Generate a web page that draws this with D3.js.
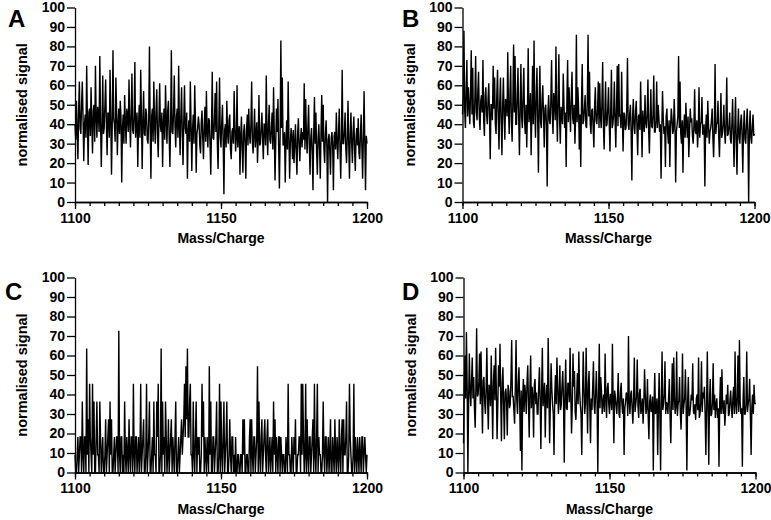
<!DOCTYPE html>
<html><head><meta charset="utf-8">
<script src="https://cdn.jsdelivr.net/npm/d3@7"></script>
<style>
body{margin:0;background:#fff;}
svg text{font-family:"Liberation Sans",Arial,Helvetica,sans-serif;font-weight:bold;fill:#000;}
</style></head><body>
<svg id="chart" width="771" height="520"></svg>
<script>
const panelLetters = ["A", "B", "C", "D"];
const xLabel = "Mass/Charge";
const yLabel = "normalised signal";
const xTickLabels = [1100, 1150, 1200];
const xMinorTicks = [1100,1105,1110,1115,1120,1125,1130,1135,1140,1145,1150,1155,1160,1165,1170,1175,1180,1185,1190,1195,1200];
const yTickLabels = [0, 10, 20, 30, 40, 50, 60, 70, 80, 90, 100];
const mzStart = 1100, mzStep = 0.25;

const signalA = [40,32,52,36,22,48,62,38,35,50,62,44,21,40,45,33,70,42,19,46,
48,34,59,41,25,47,50,31,70,44,33,49,45,36,75,42,18,38,65,35,
38,50,63,40,24,46,45,33,68,44,14,39,78,43,40,31,64,47,24,40,
48,35,52,44,10,38,45,30,55,41,30,48,44,36,63,42,28,45,66,37,
35,44,72,33,40,46,18,39,50,33,68,45,17,41,57,35,34,48,45,32,
30,43,80,38,12,44,48,31,62,40,30,47,58,35,23,43,61,39,36,46,
18,40,48,32,60,43,30,47,52,34,18,41,78,36,35,46,65,39,28,44,
48,33,70,40,24,45,59,35,19,42,60,38,35,46,12,36,42,31,62,40,
16,37,45,30,60,42,15,35,38,44,40,29,25,41,47,33,22,39,49,31,
57,36,28,43,42,30,14,38,67,33,32,42,56,36,62,30,17,40,64,34,
28,41,50,31,4,37,40,28,52,35,30,42,45,27,22,36,38,30,57,38,
26,33,60,28,35,39,14,34,44,27,15,36,40,30,12,37,45,29,48,35,
30,40,62,31,25,36,48,28,35,41,20,33,55,29,30,38,46,32,22,40,
40,29,65,36,24,40,50,32,30,38,46,27,59,35,11,31,48,36,53,28,
7,34,83,38,64,29,30,36,10,31,42,27,62,35,12,30,38,33,22,37,
20,30,40,26,14,35,43,29,21,33,38,28,36,32,61,27,53,34,25,38,
50,29,14,33,38,26,6,35,54,30,46,25,14,33,40,28,12,36,55,31,
50,27,20,34,42,29,0,32,35,26,14,33,36,28,6,34,36,27,46,31,
22,36,48,28,12,33,68,30,30,36,46,27,20,34,52,29,12,35,46,30,
20,36,44,27,16,33,38,29,43,25,22,35,45,28,12,33,57,30,6,34,
30];

const signalB = [45,55,88,47,38,58,73,44,59,50,40,56,78,45,69,41,38,54,75,46,
42,57,67,44,37,52,55,46,73,42,34,55,59,45,40,53,61,44,22,50,
50,42,70,48,64,40,35,55,68,43,27,51,64,42,24,49,64,45,32,53,
50,44,77,47,35,56,70,41,31,52,81,46,75,40,40,55,69,43,24,49,
71,44,38,55,69,42,35,50,28,47,79,41,45,56,24,45,70,40,83,48,
33,54,69,43,15,50,70,41,38,53,60,44,28,48,50,40,8,46,55,42,
40,52,73,45,35,56,52,42,80,47,31,53,76,43,30,49,45,40,66,50,
38,46,18,52,73,41,59,47,36,54,67,43,40,50,30,44,86,41,59,49,
27,45,18,51,71,40,42,48,55,39,38,52,86,44,67,40,35,47,48,38,
28,50,59,42,40,47,62,38,61,44,38,51,72,40,27,46,62,39,40,48,
59,41,26,47,68,38,40,45,62,42,28,49,70,39,71,44,45,38,67,43,
26,46,45,37,38,48,74,40,37,45,50,36,11,44,53,39,35,46,52,38,
24,44,45,37,62,42,23,47,40,36,55,41,38,45,63,37,25,43,58,39,
38,45,65,36,36,42,62,38,50,44,36,40,12,37,57,43,35,39,18,44,
48,36,30,42,18,38,48,43,35,37,53,41,10,36,40,44,75,38,62,35,
30,42,15,38,45,33,51,40,33,44,23,36,48,41,43,34,30,39,58,36,
35,42,28,37,59,33,40,41,54,35,35,40,8,37,45,33,52,40,30,36,
38,42,48,33,23,38,71,35,40,41,52,34,23,39,56,33,35,40,50,36,
30,42,64,34,35,39,46,32,30,40,53,35,18,38,54,32,14,37,48,33,
30,41,45,34,15,38,47,32,30,40,48,35,0,37,47,33,30,39,45,34,
35];

const signalC = [9.1,0,0,9.1,18.2,0,9.1,18.2,18.2,0,36.4,9.1,0,18.2,18.2,0,63.6,9.1,27.3,0,
45.5,18.2,9.1,0,45.5,9.1,36.4,0,0,18.2,36.4,9.1,9.1,0,36.4,18.2,0,9.1,18.2,0,
0,9.1,27.3,0,9.1,18.2,27.3,0,36.4,9.1,27.3,0,0,9.1,18.2,0,9.1,18.2,18.2,0,
72.7,9.1,0,18.2,18.2,0,9.1,0,36.4,9.1,0,18.2,9.1,0,27.3,9.1,0,18.2,18.2,0,
45.5,9.1,0,18.2,18.2,0,9.1,18.2,0,9.1,45.5,0,9.1,18.2,27.3,0,0,9.1,45.5,0,
9.1,18.2,36.4,0,0,9.1,18.2,0,36.4,9.1,9.1,0,36.4,18.2,45.5,0,0,9.1,63.6,0,
36.4,9.1,18.2,0,36.4,18.2,0,9.1,27.3,0,9.1,18.2,27.3,0,18.2,9.1,0,18.2,36.4,0,
0,9.1,18.2,0,9.1,18.2,27.3,9.1,18.2,27.3,45.5,18.2,54.5,27.3,63.6,18.2,18.2,36.4,45.5,9.1,
9.1,0,36.4,9.1,0,18.2,36.4,0,18.2,9.1,18.2,0,0,9.1,45.5,18.2,36.4,0,18.2,9.1,
0,18.2,9.1,0,54.5,9.1,36.4,0,0,18.2,18.2,0,9.1,18.2,36.4,0,0,9.1,45.5,0,
36.4,9.1,0,18.2,36.4,0,9.1,18.2,36.4,0,0,9.1,27.3,9.1,0,18.2,18.2,0,9.1,0,
18.2,0,0,9.1,9.1,0,0,9.1,9.1,0,27.3,9.1,27.3,0,0,9.1,9.1,0,0,18.2,
27.3,0,27.3,9.1,0,18.2,18.2,0,9.1,18.2,54.5,0,36.4,9.1,0,18.2,27.3,0,9.1,18.2,
27.3,9.1,0,18.2,27.3,0,9.1,18.2,0,9.1,18.2,0,36.4,9.1,27.3,0,18.2,9.1,0,18.2,
18.2,0,18.2,9.1,0,9.1,9.1,0,0,18.2,9.1,0,45.5,9.1,9.1,0,0,18.2,9.1,0,
18.2,9.1,27.3,0,0,9.1,9.1,18.2,18.2,0,45.5,9.1,45.5,18.2,0,9.1,45.5,0,27.3,9.1,
0,18.2,18.2,0,9.1,18.2,27.3,0,45.5,9.1,0,18.2,45.5,0,18.2,9.1,9.1,0,0,9.1,
36.4,9.1,0,18.2,18.2,0,9.1,18.2,0,9.1,27.3,0,0,18.2,9.1,0,27.3,9.1,0,18.2,
9.1,0,27.3,9.1,0,18.2,27.3,0,27.3,9.1,9.1,18.2,36.4,0,0,9.1,45.5,18.2,9.1,0,
0,9.1,45.5,0,18.2,9.1,0,18.2,9.1,0,18.2,9.1,0,18.2,18.2,0,9.1,18.2,9.1,0,
9.1];

const signalD = [15,44,60,38,72,45,0,36,61,42,34,47,59,38,49,33,23,44,74,39,
40,46,61,35,62,41,20,47,49,36,30,43,64,38,22,45,43,34,60,40,
17,46,55,37,64,42,17,35,55,44,66,38,16,46,54,34,17,41,43,36,
19,45,42,33,35,47,68,39,39,32,25,44,68,37,30,46,54,35,11,42,
1,38,48,31,45,40,30,46,55,36,18,43,60,33,44,39,18,45,48,35,
41,30,30,44,54,37,12,42,64,34,40,46,18,38,45,33,69,41,15,36,
56,43,35,30,9,40,50,35,59,44,30,38,55,32,35,45,52,37,5,41,
58,33,32,46,45,36,64,40,20,34,61,44,52,31,27,39,51,35,62,42,
35,30,9,37,62,43,30,35,64,40,20,45,52,33,15,38,32,44,57,34,
30,41,52,36,0,39,66,33,49,42,30,36,40,31,61,38,28,43,46,35,
30,40,40,32,66,37,15,42,39,34,30,39,51,30,28,41,46,35,30,38,
9,33,36,41,40,29,70,36,30,40,42,33,25,37,59,31,35,39,58,34,
28,41,43,30,33,38,25,35,53,40,30,33,48,29,17,36,40,31,33,39,
1,34,51,30,32,38,9,33,51,29,1,37,62,32,35,40,57,30,36,35,
30,39,48,28,15,36,56,32,59,38,30,34,62,29,35,37,49,31,22,35,
61,30,35,38,53,33,1,36,49,29,30,34,40,37,56,31,30,35,27,38,
40,32,59,28,30,36,57,31,41,38,44,30,9,35,62,32,4,37,48,29,
30,36,56,32,40,28,35,38,28,33,3,36,49,30,53,34,30,37,24,31,
40,35,45,29,30,37,42,33,28,38,44,30,62,35,30,39,60,31,68,36,
30,33,3,37,49,30,30,35,62,31,35,38,48,29,9,34,40,30,45,36,
35];

const panels = [
  {letter: panelLetters[0], data: signalA, left: 75,    right: 367,   top: 7.5,   bottom: 202,   lx: 8,   ly: 27},
  {letter: panelLetters[1], data: signalB, left: 462.5, right: 754.5, top: 7.5,   bottom: 202,   lx: 402, ly: 27},
  {letter: panelLetters[2], data: signalC, left: 75,    right: 367,   top: 277.5, bottom: 472.5, lx: 5,   ly: 300},
  {letter: panelLetters[3], data: signalD, left: 463.5, right: 755.5, top: 277.5, bottom: 472.5, lx: 402, ly: 300}
];

const svg = d3.select("#chart");

panels.forEach(p => {
  const x = d3.scaleLinear().domain([1100, 1200]).range([p.left, p.right]);
  const y = d3.scaleLinear().domain([0, 100]).range([p.bottom, p.top]);
  const g = svg.append("g");

  const line = d3.line()
    .x((d, i) => x(mzStart + i * mzStep))
    .y(d => y(d));
  g.append("path")
    .datum(p.data)
    .attr("d", line)
    .attr("fill", "none")
    .attr("stroke", "#000")
    .attr("stroke-width", 1.4)
    .attr("stroke-linejoin", "miter")
    .attr("stroke-miterlimit", 2);

  g.append("g")
    .attr("transform", `translate(${p.left},0)`)
    .call(d3.axisLeft(y).tickValues(yTickLabels).tickSize(8).tickSizeOuter(0).tickPadding(2));
  g.append("g")
    .attr("transform", `translate(0,${p.bottom})`)
    .call(d3.axisBottom(x).tickValues(xMinorTicks).tickSize(4).tickSizeOuter(0).tickFormat(""));
  g.append("g")
    .attr("transform", `translate(0,${p.bottom})`)
    .call(d3.axisBottom(x).tickValues(xTickLabels).tickSize(7).tickSizeOuter(0).tickPadding(4).tickFormat(d3.format("d")));

  g.selectAll(".domain").attr("stroke", "#000").attr("stroke-width", 1.3);
  g.selectAll(".tick line").attr("stroke", "#000").attr("stroke-width", 1.3);
  g.selectAll(".tick text").attr("font-size", 14).attr("font-family", null).attr("fill", "#000");

  g.append("text")
    .attr("x", (p.left + p.right) / 2)
    .attr("y", p.bottom + 41)
    .attr("text-anchor", "middle")
    .attr("font-size", 14)
    .text(xLabel);
  g.append("text")
    .attr("transform", `translate(${p.left - 48},${(p.top + p.bottom) / 2}) rotate(-90)`)
    .attr("text-anchor", "middle")
    .attr("font-size", 14.5)
    .text(yLabel);

  g.append("text")
    .attr("x", p.lx)
    .attr("y", p.ly)
    .attr("font-size", 24)
    .text(p.letter);
});
</script>
</body></html>
